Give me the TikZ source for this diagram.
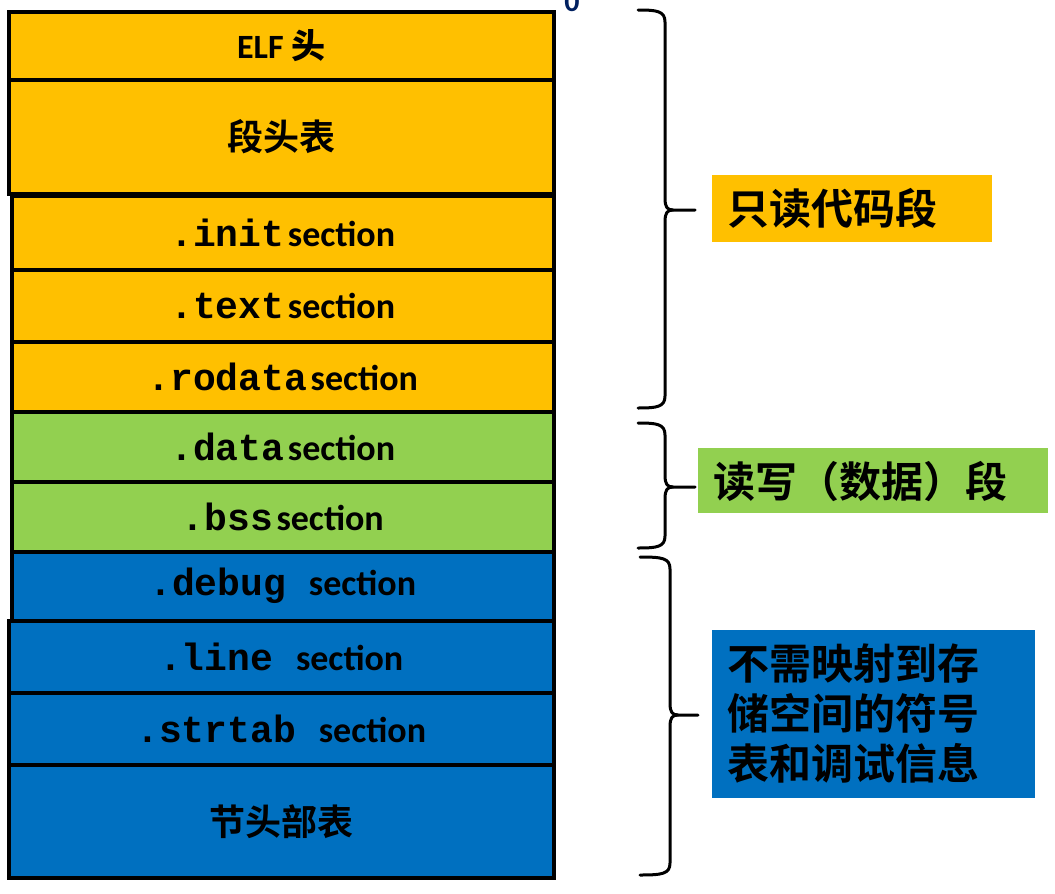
\documentclass[tikz,border=0pt]{standalone}
\usepackage{fontspec}
\setmainfont{Carlito}
\newfontfamily\cjkb{Noto Sans CJK SC Bold}
\newfontfamily\monob{Liberation Mono Bold}
\newfontfamily\secb{Carlito}
\definecolor{roseg}{HTML}{FFC000}
\definecolor{rwseg}{HTML}{92D050}
\definecolor{dbgseg}{HTML}{0070C0}
\definecolor{addrblue}{HTML}{002060}
% ELF layout: one stacked column of sections, braces and segment labels
\newcommand{\secname}[1]{{\monob\fontsize{38pt}{40pt}\selectfont #1}\hspace{0.1em}{\secb\bfseries section}}
\newcommand{\secnamew}[1]{{\monob\fontsize{38pt}{40pt}\selectfont #1\ }{\secb\bfseries section}}
% brace: #1 top y, #2 tip y, #3 bottom y, #4 end x, #5 stem x, #6 tip x
\newcommand{\segbrace}[6]{%
  \draw[bracestyle] (#4,#1) .. controls ({#5-8},#1) and (#5,{#1+1}) .. (#5,{#1+12})
    -- (#5,{#2-12}) .. controls (#5,{#2-3}) and ({#5+2},#2) .. ({#5+8},#2) -- (#6,#2);
  \draw[bracestyle] ({#5+8},#2) .. controls ({#5+2},#2) and (#5,{#2+3}) .. (#5,{#2+12})
    -- (#5,{#3-12}) .. controls (#5,{#3-1}) and ({#5-8},#3) .. (#4,#3);}
\tikzset{
  secbox/.style={draw=black, line width=3.5pt, anchor=north west, inner sep=0pt,
    minimum width=545pt, text=black, font=\fontsize{36pt}{38pt}\selectfont},
  bracestyle/.style={draw=black, line width=3pt, line cap=round, line join=round},
  seglabel/.style={anchor=north west, inner sep=0pt, text=black,
    font=\cjkb\fontsize{42pt}{50pt}\selectfont},
}
\begin{document}
\begin{tikzpicture}[x=1pt, y=-1pt]
\useasboundingbox (0,0) rectangle (1055,894);
\fill[white] (0,0) rectangle (1055,894);

% read-only part
\node[secbox, fill=roseg, minimum height=68pt] (elf) at (7,10) {\secb\bfseries\fontsize{34pt}{36pt}\selectfont ELF {\cjkb 头}};
\node[secbox, fill=roseg, minimum height=114pt] (pht) at (7,78) {\cjkb 段头表};
\node[secbox, fill=roseg, minimum height=74pt, minimum width=542pt] (init) at (10,194) {\secname{.init}};
\node[secbox, fill=roseg, minimum height=72pt, minimum width=542pt] (text) at (10,268) {\secname{.text}};
\node[secbox, fill=roseg, minimum height=70pt, minimum width=542pt] (rodata) at (10,340) {\secname{.rodata}};
% read/write part
\node[secbox, fill=rwseg, minimum height=70pt, minimum width=542pt] (data) at (10,410) {\secname{.data}};
\node[secbox, fill=rwseg, minimum height=70pt, minimum width=542pt] (bss) at (10,480) {\secname{.bss}};
% not loaded
\node[secbox, fill=dbgseg, minimum height=69pt, minimum width=542pt] (debug) at (10,550) {\secnamew{.debug}};
\node[secbox, fill=dbgseg, minimum height=72pt] (line) at (7,619) {\secnamew{.line}};
\node[secbox, fill=dbgseg, minimum height=72pt] (strtab) at (7,691) {\secnamew{.strtab}};
\node[secbox, fill=dbgseg, minimum height=113pt] (sht) at (7,763) {\cjkb 节头部表};

% address 0 at the top
\node[anchor=base, inner sep=0pt, text=addrblue, font=\secb\bfseries\fontsize{30pt}{30pt}\selectfont] (zero) at (572,12) {0};

% braces
\segbrace{10}{210}{408}{638}{665}{695}
\segbrace{423}{487}{548}{638}{665}{695}
\segbrace{557}{715}{875}{640}{670}{698}

% segment labels
\fill[roseg] (712,175) rectangle (992,242);
\node[seglabel, anchor=west] (rolabel) at (727,208) {只读代码段};
\fill[rwseg] (698,448) rectangle (1048,513);
\node[seglabel, anchor=west] (rwlabel) at (713,481) {读写（数据）段};
\fill[dbgseg] (712,630) rectangle (1035,798);
\node[seglabel, align=left, anchor=west] (dbglabel) at (727,714) {不需映射到存\\储空间的符号\\表和调试信息};
\end{tikzpicture}
\end{document}
